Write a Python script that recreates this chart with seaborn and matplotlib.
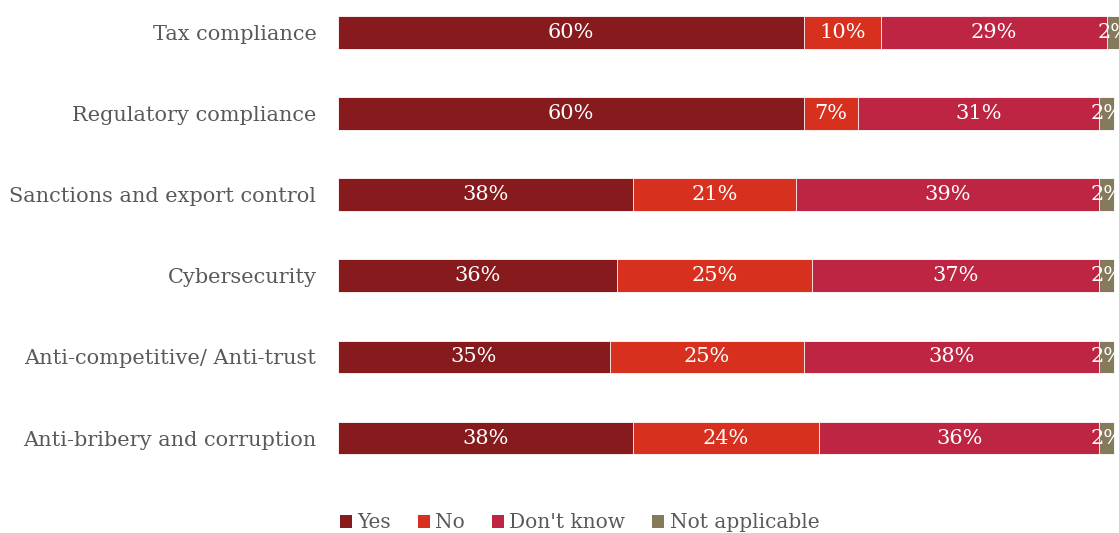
import matplotlib
matplotlib.use("Agg")
import matplotlib.pyplot as plt
import seaborn as sns
import pandas as pd
import numpy as np
from matplotlib.patches import Patch

categories = [
    "Tax compliance",
    "Regulatory compliance",
    "Sanctions and export control",
    "Cybersecurity",
    "Anti-competitive/ Anti-trust",
    "Anti-bribery and corruption",
]
series_names = ["Yes", "No", "Don't know", "Not applicable"]
yes_vals = [60, 60, 38, 36, 35, 38]
no_vals = [10, 7, 21, 25, 25, 24]
dont_know_vals = [29, 31, 39, 37, 38, 36]
na_vals = [2, 2, 2, 2, 2, 2]

colors = ["#861A1C", "#D8301E", "#BE2543", "#857A5C"]
label_gray = "#595959"

sns.set_theme(style="white")
plt.rcParams["font.family"] = ["DejaVu Serif"]

series = [yes_vals, no_vals, dont_know_vals, na_vals]
df = pd.DataFrame({"category": categories})
for name, vals in zip(series_names, series):
    df[name] = vals
cum = df[series_names].cumsum(axis=1)

fig = plt.figure(figsize=(11.19, 5.33), dpi=100)
ax = fig.add_axes([338 / 1119, 0.102, 781 / 1119, 0.898])

# stacked bars: draw cumulative totals from the largest down
for i in range(len(series_names) - 1, -1, -1):
    sns.barplot(
        x=cum[series_names[i]], y=df["category"], order=categories,
        color=colors[i], width=0.405, orient="h", ax=ax,
        edgecolor="white", linewidth=0.6, saturation=1,
    )

# value labels centred in each segment
starts = cum.shift(1, axis=1).fillna(0)
for i, name in enumerate(series_names):
    for j in range(len(categories)):
        v = df[name].iloc[j]
        xc = starts[name].iloc[j] + v / 2
        ax.text(xc, j, f"{v}%", ha="center", va="center",
                color="white", fontsize=15)

ax.set_xlim(0, 100.6)
ax.set_ylim(5.5, -0.4)
ax.set_xlabel("")
ax.set_ylabel("")
ax.set_xticks([])
for s in ax.spines.values():
    s.set_visible(False)
ax.tick_params(axis="y", length=0, pad=15.5, labelsize=15, labelcolor=label_gray)

handles = [Patch(facecolor=c, edgecolor="none") for c in colors]
fig.legend(handles, series_names, loc="center", bbox_to_anchor=(0.518, 0.019),
           ncol=4, frameon=False, handlelength=0.6, handleheight=0.6,
           handletextpad=0.25, columnspacing=1.35, fontsize=14.5,
           labelcolor=label_gray)

fig.savefig("out.png", dpi=100)
